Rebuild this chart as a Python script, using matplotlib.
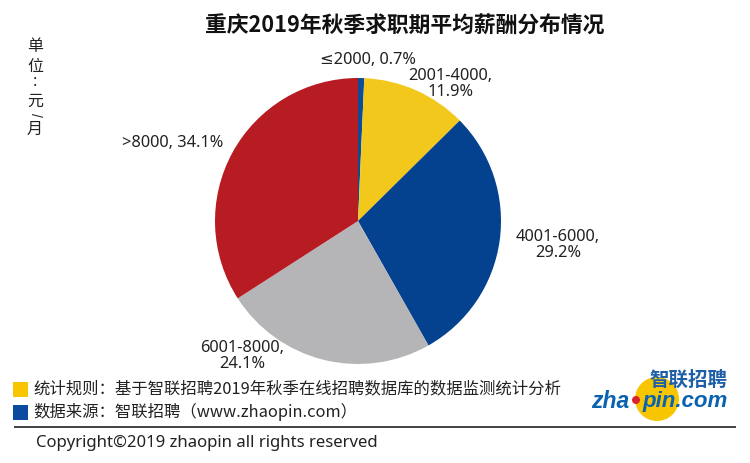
import matplotlib
matplotlib.use("Agg")
import matplotlib.pyplot as plt
from matplotlib.patches import Circle, Rectangle

plt.rcParams['font.family'] = ['Noto Sans CJK SC', 'DejaVu Sans']

categories = ['≤2000', '2001-4000', '4001-6000', '6001-8000', '>8000']
values = [0.7, 11.9, 29.2, 24.1, 34.1]
colors = ['#0F4C96', '#F2C81C', '#04428F', '#B5B5B7', '#B71C23']
title = '重庆2019年秋季求职期平均薪酬分布情况'
unit_chars = ['单', '位', ':', '元', '/', '月']
notes = ['统计规则：基于智联招聘2019年秋季在线招聘数据库的数据监测统计分析',
         '数据来源：智联招聘（www.zhaopin.com）']
note_colors = ['#F7C600', '#0B4A9E']
copyright_text = 'Copyright©2019 zhaopin all rights reserved'
text_color = '#222222'

W, H = 750, 464
fig = plt.figure(figsize=(W / 100, H / 100), dpi=100, facecolor='white')

R = 143
cx, cy = 358, 222
ax = fig.add_axes([(cx - R) / W, 1 - (cy + R) / H, 2 * R / W, 2 * R / H])
ax.pie(values, colors=colors, startangle=90, counterclock=False, radius=1,
       wedgeprops={'linewidth': 0})
ax.set_xlim(-1, 1)
ax.set_ylim(-1, 1)
ax.set_aspect('equal')

ov = fig.add_axes([0, 0, 1, 1], facecolor='none')
ov.set_xlim(0, W)
ov.set_ylim(H, 0)
ov.axis('off')


def T(x, y, s, size=12, ha='center', **kw):
    ov.text(x, y, s, fontsize=size, ha=ha, va='center', color=kw.pop('color', text_color), **kw)


T(405, 26, title, size=15.7, fontweight='bold', color='#111111')

unit_y = [47, 66, 82, 101, 115, 129]
for ch, y in zip(unit_chars, unit_y):
    rot = -90 if ch == '/' else 0
    T(35, y, ch, size=(10 if ch == '/' else 11.5), rotation=rot,
      family=['Liberation Sans'] if ch == '/' else None)

label_font = ['Noto Sans', 'DejaVu Sans']
label_pos = [(368, 60), (450, 84), (558, 245), (242, 356), (173, 143)]
pct = [f'{v}%' for v in values]
T(*label_pos[0], f'{categories[0]}, {pct[0]}', size=11.8, family=label_font)
T(*label_pos[1], f'{categories[1]},\n{pct[1]}', size=11.8, linespacing=1.05, family=label_font)
T(*label_pos[2], f'{categories[2]},\n{pct[2]}', size=11.8, linespacing=1.05, family=label_font)
T(*label_pos[3], f'{categories[3]},\n{pct[3]}', size=11.8, linespacing=1.05, family=label_font)
T(*label_pos[4], f'{categories[4]}, {pct[4]}', size=11.8, family=label_font)

for y, s, c in zip([389, 412], notes, note_colors):
    ov.add_patch(Rectangle((13, y - 6), 15, 15, facecolor=c, edgecolor='none'))
    T(33, y, s, size=11.8, ha='left')

ov.plot([14, 736], [428, 428], color='#222222', lw=1.2, solid_capstyle='butt')
T(36, 443, copyright_text, size=12.05, ha='left', family=label_font)

ov.add_patch(Circle((657, 400), 22, facecolor='#F7C600', edgecolor='none'))
ov.add_patch(Circle((636, 401), 4, facecolor='#D9232E', edgecolor='none', zorder=4))
T(688, 380, '智联招聘', size=14, color='#1F5FA8', fontweight='bold', zorder=5)
T(610, 402, 'zha', size=16.5, color='#0B63B0', fontweight='bold', style='italic', family=['Liberation Sans'], zorder=5)
T(685, 402, 'pin.com', size=16, color='#0B63B0', fontweight='bold', style='italic', family=['Liberation Sans'], zorder=5)

fig.savefig('out.png', dpi=100, facecolor='white')
